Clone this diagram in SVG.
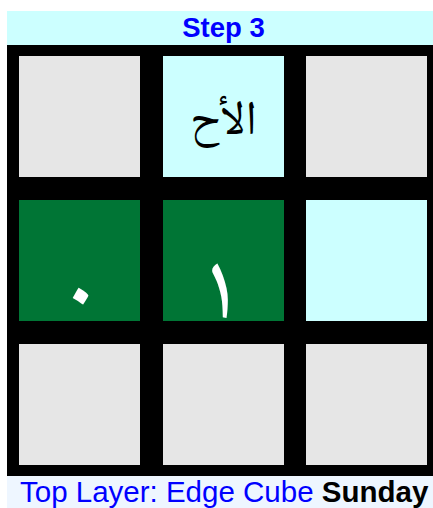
<svg xmlns="http://www.w3.org/2000/svg" width="433" height="508" viewBox="0 0 433 508">
<style>
.grey{fill:#e6e6e6}
.cyan{fill:#ccffff}
.green{fill:#007535}
.ar{font-family:"Noto Naskh Arabic","Amiri",serif;text-anchor:middle}
</style>
<rect x="0" y="0" width="433" height="508" fill="#ffffff"/>
<g id="title">
<rect x="7" y="11" width="432" height="34" fill="#ccffff"/>
<text x="223.5" y="37" font-family="Liberation Sans, Arial, sans-serif" font-weight="bold" font-size="27.5" fill="#0000ff" text-anchor="middle">Step 3</text>
</g>
<g id="board">
<rect x="7" y="45" width="432" height="431" fill="#000000"/>
</g>
<g id="cell-1-1"><rect class="grey" x="19" y="56" width="121" height="121"/></g>
<g id="cell-1-2"><rect class="cyan" x="163" y="56" width="121" height="121"/>
<text class="ar" x="223.5" y="134" font-size="48" fill="#000000" direction="rtl">الأح</text></g>
<g id="cell-1-3"><rect class="grey" x="306" y="56" width="121" height="121"/></g>
<g id="cell-2-1"><rect class="green" x="19" y="200" width="121" height="121"/>
<text class="ar" x="79.5" y="318" font-size="96" fill="#ffffff">٠</text></g>
<g id="cell-2-2"><rect class="green" x="163" y="200" width="121" height="121"/>
<text class="ar" x="221" y="318" font-size="96" fill="#ffffff">١</text></g>
<g id="cell-2-3"><rect class="cyan" x="306" y="200" width="121" height="121"/></g>
<g id="cell-3-1"><rect class="grey" x="19" y="344" width="121" height="121"/></g>
<g id="cell-3-2"><rect class="grey" x="163" y="344" width="121" height="121"/></g>
<g id="cell-3-3"><rect class="grey" x="306" y="344" width="121" height="121"/></g>
<g id="connectors"></g>
<g id="footer">
<rect x="7" y="476" width="432" height="32" fill="#eef6ff"/>
<text x="20" y="502" font-family="Liberation Sans, Arial, sans-serif" font-size="29.5" fill="#0000ff">Top Layer: Edge Cube <tspan font-weight="bold" fill="#000000">Sunday</tspan></text>
</g>
</svg>
